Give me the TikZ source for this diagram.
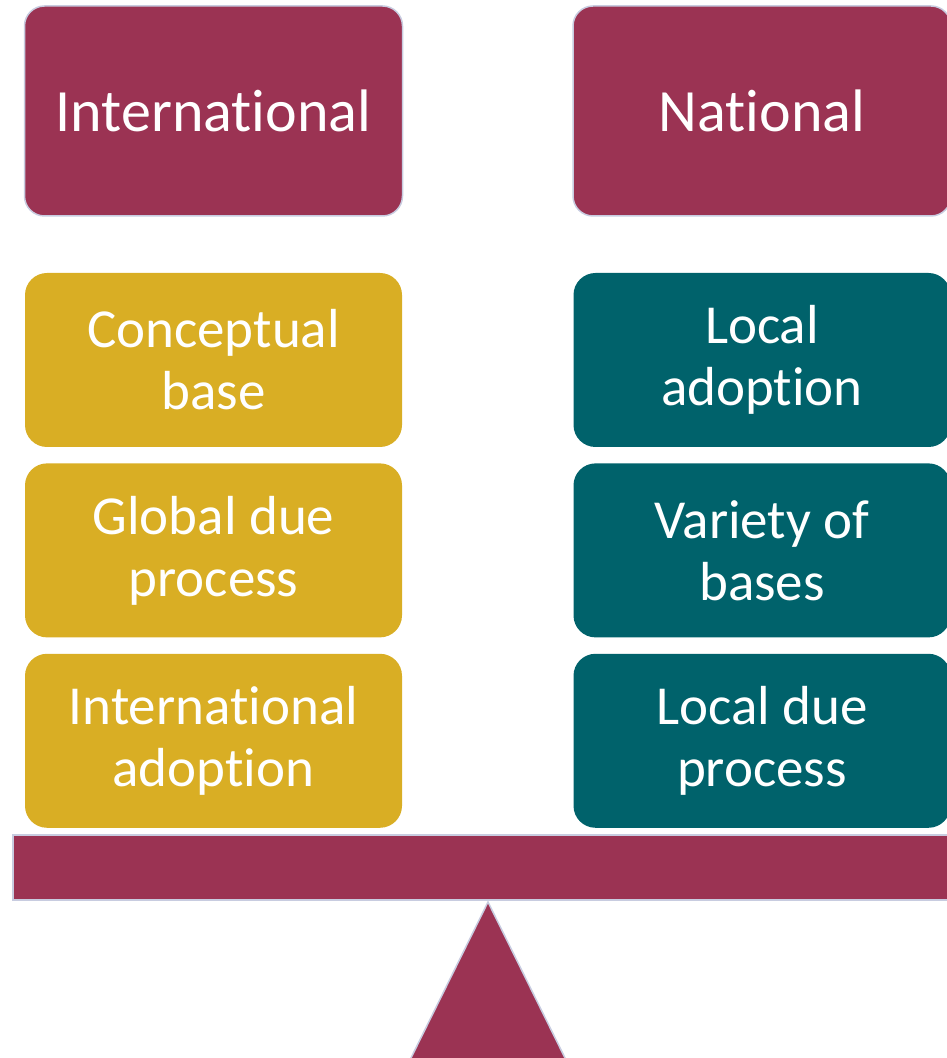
\documentclass[tikz,border=0pt]{standalone}
\usepackage{fontspec}
\setmainfont{Carlito}[RawFeature={-liga;-clig;-dlig;-calt;-rlig}]
\usetikzlibrary{positioning}
\definecolor{wine}{HTML}{9B3353}
\definecolor{mustard}{HTML}{D9AE24}
\definecolor{petrol}{HTML}{00626B}
\definecolor{edge}{HTML}{C8CCE0}
\tikzset{
  headbox/.style = {rounded corners=20pt, fill=wine, draw=edge, line width=1.5pt,
                    minimum width=378pt, minimum height=210pt, inner sep=0pt,
                    text=white, font=\fontsize{60}{66}\selectfont},
  itembox/.style = {rounded corners=22pt, fill=#1, minimum width=377pt,
                    minimum height=174pt, inner sep=0pt, align=center,
                    text=white, font=\fontsize{55}{62}\selectfont},
  itembox/.default = mustard
}

\begin{document}
\begin{tikzpicture}[x=1pt,y=1pt]
	\def \W{947}
	\def \H{1058}
	\def \gap{16pt}

	\useasboundingbox (0,0) rectangle (\W,\H);
	\clip (0,0) rectangle (\W,\H);

	% Headers
	\node[headbox] (intl) at (213.5,947) {International};
	\node[headbox] (natl) at (762,947) {National};

	% International side
	\node[itembox] (base) at (213.5,698) {Conceptual\\base};
	\node[itembox, below=\gap of base] (glob) {Global due\\process};
	\node[itembox, below=\gap of glob] (iadopt) {International\\adoption};

	% National side
	\node[itembox=petrol] (ladopt) at (762,698) {Local\\adoption};
	\node[itembox=petrol, below=\gap of ladopt] (var) {Variety of\\bases};
	\node[itembox=petrol, below=\gap of var] (ldue) {Local due\\process};

	% Beam and pivot
	\draw[fill=wine, draw=edge, line width=1.5pt] (13,158) rectangle (963,223);
	\draw[fill=wine, draw=edge, line width=1.5pt] (488,156) -- (566,-2) -- (410,-2) -- cycle;

\end{tikzpicture}
\end{document}
